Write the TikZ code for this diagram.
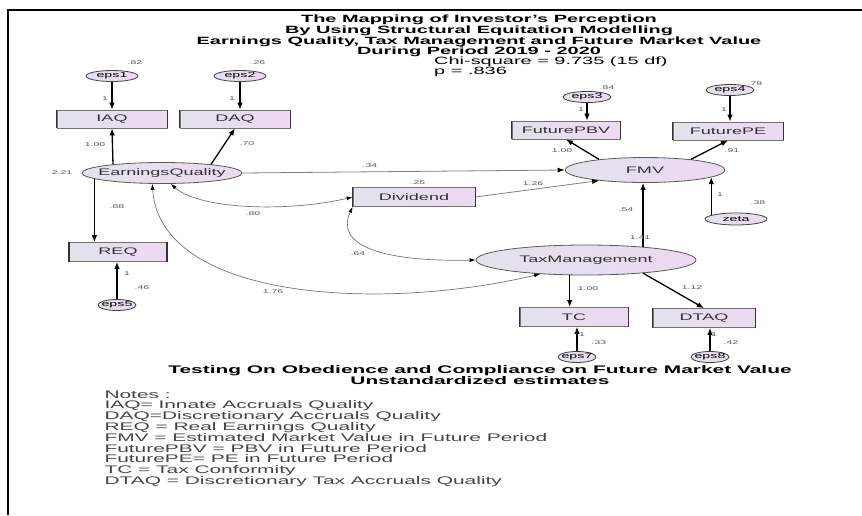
\documentclass[tikz,border=0pt]{standalone}
\usepackage{fontspec}
\setmainfont{Liberation Sans}[FakeStretch=1.9]
\usepackage{tikz}
\usetikzlibrary{shapes.geometric}
\usetikzlibrary{arrows.meta}
\definecolor{boxleft}{HTML}{E2E2EC}
\definecolor{boxright}{HTML}{EDD9F2}
\definecolor{labgray}{HTML}{555555}
\definecolor{notegray}{HTML}{444444}
\newcommand\nowidth[1]{\makebox[0pt]{#1}}

\begin{document}
\begin{tikzpicture}[x=1pt,y=-1pt,
	observed/.style={rectangle,draw=black!55,line width=0.7pt,left color=boxleft,right color=boxright,minimum height=18pt,inner sep=0pt,text=black!80,font=\fontsize{9.5}{10}\selectfont},
	latent/.style={ellipse,draw=black!65,line width=0.8pt,left color=boxleft,right color=boxright,inner sep=0pt,text=black!80,font=\fontsize{9.5}{10}\selectfont},
	err/.style={ellipse,draw=black!75,line width=0.8pt,left color=boxleft,right color=boxright,inner sep=0pt,font=\fontsize{7.5}{8}\selectfont},
	est/.style={font=\fontsize{5.5}{6}\selectfont,text=labgray,inner sep=0pt},
	regress/.style={line width=1.3pt,-{Latex[length=7pt,width=5.5pt]}},
	weak/.style={line width=0.8pt,draw=black!50,-{Latex[length=7pt,width=5pt,color=black]}},
	covar/.style={line width=0.7pt,draw=black!55,{Latex[length=6pt,width=4pt,color=black]}-{Latex[length=6pt,width=4pt,color=black]}}]
	\useasboundingbox (0,0) rectangle (862,515);
	
	%FRAME
	\draw[line width=1.5pt] (8,515)--(8,10)--(862,10);
	
	%TITLES
	\node[align=center,inner sep=0pt,font=\bfseries\fontsize{10.5}{9.6}\selectfont] (title) at (479,36) {%
		The Mapping of Investor's Perception \\
		By Using Structural Equitation Modelling \\
		Earnings Quality, Tax Management and Future Market Value \\
		During Period 2019 - 2020
	};
	\node[anchor=west,align=left,inner sep=0pt,font=\fontsize{10.5}{10}\selectfont] (fit) at (434,67) {%
		Chi-square = 9.735 (15 df) \\
		p = .836
	};
	
	%EARNINGS QUALITY
	\node[latent,minimum width=160pt,minimum height=21pt] (eq) at (162,173) {\nowidth{EarningsQuality}};
	\node[observed,minimum width=110pt] (iaq) at (112,119) {IAQ};
	\node[observed,minimum width=110pt] (daq) at (235,119) {DAQ};
	\node[observed,minimum width=97pt,minimum height=19pt] (req) at (118,252) {REQ};
	\node[err,minimum width=52pt,minimum height=11pt] (e1) at (112,76) {\nowidth{eps1}};
	\node[err,minimum width=52pt,minimum height=11pt] (e2) at (240,76) {\nowidth{eps2}};
	\node[err,minimum width=38pt,minimum height=11pt] (e5) at (117,305) {\nowidth{eps5}};
	%
	\draw[regress] (e1.south)--(e1.south |- iaq.north);
	\draw[regress] (e2.south)--(e2.south |- daq.north);
	\draw[regress] (eq.170)--(iaq.south);
	\draw[regress] (eq.10)--(daq.south);
	\draw[regress] (eq.185)--(eq.185 |- req.north);
	\draw[regress] (e5.north)--(e5.north |- req.south);
	
	%FUTURE MARKET VALUE
	\node[latent,minimum width=160pt,minimum height=25pt] (fmv) at (645,170) {\nowidth{FMV}};
	\node[observed,minimum width=108pt] (fpbv) at (566,130) {FuturePBV};
	\node[observed,minimum width=110pt] (fpe) at (728,131) {FuturePE};
	\node[err,minimum width=48pt,minimum height=11pt] (e3) at (587,97) {\nowidth{eps3}};
	\node[err,minimum width=48pt,minimum height=11pt] (e4) at (730,90) {\nowidth{eps4}};
	\node[err,minimum width=62pt,minimum height=12pt] (zeta) at (736,219) {\nowidth{zeta}};
	%
	\draw[regress] (e3.south)--(e3.south |- fpbv.north);
	\draw[regress] (e4.south)--(e4.south |- fpe.north);
	\draw[regress] (fmv.167)--(fpbv.south);
	\draw[regress] (fmv.13)--(fpe.south);
	\draw[regress] (zeta.171)--(zeta.171 |- fmv.-6);
	
	%DIVIDEND
	\node[observed,minimum width=122pt,minimum height=19pt] (div) at (414,197) {Dividend};
	\draw[weak] (eq.east)--(fmv.west);
	\draw[weak] (div.east)--(fmv.193);
	
	%TAX MANAGEMENT
	\node[latent,minimum width=220pt,minimum height=30pt] (tax) at (586,260) {\nowidth{TaxManagement}};
	\node[observed,minimum width=108pt,minimum height=19pt] (tc) at (574,317) {TC};
	\node[observed,minimum width=102pt,minimum height=19pt] (dtaq) at (704,318) {DTAQ};
	\node[err,minimum width=38pt,minimum height=11pt] (e7) at (577,357) {\nowidth{eps7}};
	\node[err,minimum width=38pt,minimum height=11pt] (e8) at (710,357) {\nowidth{eps8}};
	%
	\draw[regress] (tax.13)--(tax.13 |- fmv.south);
	\draw[regress] (tax.-137)--(tax.-137 |- tc.north);
	\draw[regress] (tax.-13.6)--(dtaq.north);
	\draw[regress] (e7.north)--(e7.north |- tc.south);
	\draw[regress] (e8.north)--(e8.north |- dtaq.south);
	
	%THICK BOX SIDES
	\foreach \b in {iaq,daq,req,fpbv,fpe,div,tc,dtaq}
		\draw[line width=1.4pt,black!80] (\b.north west)--(\b.south west) (\b.north east)--(\b.south east);
	
	%COVARIANCES
	\draw[covar] (eq.-51) .. controls (200,210) and (290,212) .. (div.west);
	\draw[covar] (div.south west) .. controls (335,245) and (380,262) .. (tax.west);
	\draw[covar] (eq.-132) .. controls (160,300) and (380,312) .. (tax.197);
	
	%ESTIMATES
	\node[est] (v82) at (135,63) {.82};
	\node[est] (v26) at (258,63) {.26};
	\node[est] (w1) at (105,99) {1};
	\node[est] (w2) at (232,99) {1};
	\node[est] (v84) at (607,88) {.84};
	\node[est] (v79) at (755,84) {.79};
	\node[est] (w3) at (581,110) {1};
	\node[est] (w4) at (724,110) {1};
	\node[est] (b100a) at (95,145) {1.00};
	\node[est] (b70) at (247,144) {.70};
	\node[est] (v221) at (62,173) {2.21};
	\node[est] (b88) at (117,207) {.88};
	\node[est] (w5) at (127,274) {1};
	\node[est] (v46) at (142,288) {.46};
	\node[est] (b100b) at (562,151) {1.00};
	\node[est] (b91) at (732,151) {.91};
	\node[est] (w6) at (720,195) {1};
	\node[est] (v38) at (758,203) {.38};
	\node[est] (b34) at (370,166) {.34};
	\node[est] (v25) at (418,183) {.25};
	\node[est] (b126) at (533,184) {1.26};
	\node[est] (c80) at (253,214) {.80};
	\node[est] (c64) at (358,254) {.64};
	\node[est] (c176) at (273,292) {1.76};
	\node[est] (b54) at (626,210) {.54};
	\node[est] (v141) at (640,238) {1.41};
	\node[est] (b100c) at (588,289) {1.00};
	\node[est] (b112) at (692,288) {1.12};
	\node[est] (w7) at (582,335) {1};
	\node[est] (v33) at (599,343) {.33};
	\node[est] (w8) at (714,335) {1};
	\node[est] (v42) at (731,343) {.42};
	
	%LOWER TEXT
	\node[align=center,font=\bfseries\fontsize{11}{10.5}\selectfont] (sub) at (480,375) {%
		Testing On Obedience and Compliance on Future Market Value \\
		Unstandardized estimates
	};
	\node[anchor=north west,align=left,text=notegray,font=\fontsize{11}{10.8}\selectfont] (notes) at (101,387) {%
		Notes : \\
		IAQ= Innate Accruals Quality \\
		DAQ=Discretionary Accruals Quality \\
		REQ = Real Earnings Quality \\
		FMV = Estimated Market Value in Future Period \\
		FuturePBV = PBV in Future Period \\
		FuturePE= PE in Future Period \\
		TC = Tax Conformity \\
		DTAQ = Discretionary Tax Accruals Quality
	};
\end{tikzpicture}
\end{document}
